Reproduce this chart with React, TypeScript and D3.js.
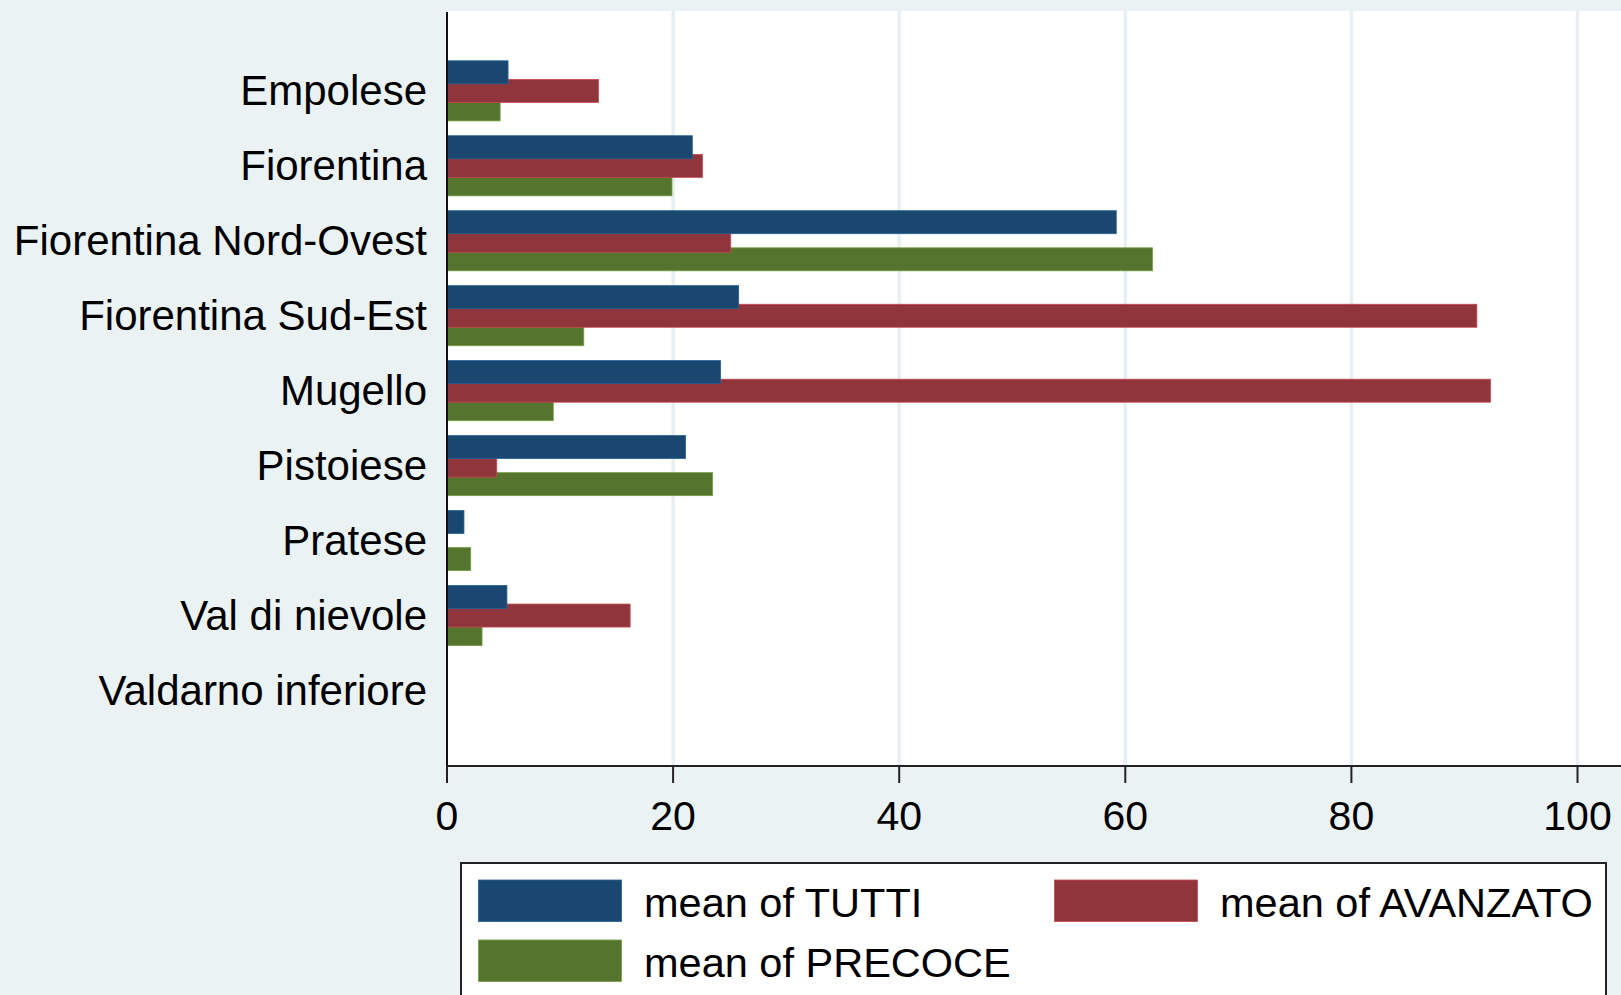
import React from "react";
import * as d3 from "d3";

const categories = [
  "Empolese",
  "Fiorentina",
  "Fiorentina Nord-Ovest",
  "Fiorentina Sud-Est",
  "Mugello",
  "Pistoiese",
  "Pratese",
  "Val di nievole",
  "Valdarno inferiore",
];
const tutti = [5.4, 21.7, 59.2, 25.8, 24.2, 21.1, 1.5, 5.3, 0];
const avanzato = [13.4, 22.6, 25.1, 91.1, 92.3, 4.4, 0, 16.2, 0];
const precoce = [4.7, 19.9, 62.4, 12.1, 9.4, 23.5, 2.1, 3.1, 0];
const xTicks = [0, 20, 40, 60, 80, 100];
const seriesNames = ["mean of TUTTI", "mean of AVANZATO", "mean of PRECOCE"];
const seriesColors = ["#1a476f", "#90353b", "#55752f"];

const W = 1621;
const H = 995;
const BG = "#eaf2f3";
const FONT = "'Liberation Sans', Arial, Helvetica, sans-serif";

export default function App() {
  const plotLeft = 447;
  const plotTop = 11;
  const plotBottom = 766;

  const x = d3.scaleLinear().domain([0, 100]).range([447, 1577.5]);
  const y = d3
    .scalePoint<string>()
    .domain(categories)
    .range([plotTop + 2, plotBottom + 1])
    .padding(1.03);

  const series = [tutti, avanzato, precoce];
  const offsets = [-17.9, 0.7, 19.2];
  const barH = 23;
  const drawOrder = [2, 1, 0];

  return (
    <svg
      width={W}
      height={H}
      style={{ position: "absolute", left: 0, top: 0, display: "block" }}
      fontFamily={FONT}
    >
      <rect x={0} y={0} width={W} height={H} fill={BG} />
      <rect
        x={plotLeft}
        y={plotTop}
        width={W - plotLeft}
        height={plotBottom - plotTop}
        fill="#ffffff"
      />
      {xTicks
        .filter((t) => t !== 0)
        .map((t) => (
          <line
            key={"g" + t}
            x1={x(t)}
            x2={x(t)}
            y1={plotTop}
            y2={plotBottom}
            stroke="#e6eff1"
            strokeWidth={3.5}
          />
        ))}
      {drawOrder.map((si) =>
        categories.map((c, i) => {
          const v = series[si][i];
          if (!v) return null;
          const cy = (y(c) as number) + offsets[si];
          const fill = seriesColors[si];
          const stroke = d3.color(fill)!.brighter(0.9).formatHex();
          return (
            <rect
              key={si + "-" + i}
              x={x(0)}
              y={cy - barH / 2}
              width={x(v) - x(0)}
              height={barH}
              fill={fill}
              stroke={stroke}
              strokeWidth={0.8}
            />
          );
        })
      )}
      <line
        x1={plotLeft}
        x2={plotLeft}
        y1={plotTop + 1}
        y2={plotBottom}
        stroke="#111"
        strokeWidth={2}
      />
      <line
        x1={plotLeft}
        x2={W}
        y1={plotBottom}
        y2={plotBottom}
        stroke="#222"
        strokeWidth={2}
      />
      {xTicks.map((t) => (
        <g key={"t" + t}>
          <line
            x1={x(t)}
            x2={x(t)}
            y1={plotBottom}
            y2={plotBottom + 17}
            stroke="#222"
            strokeWidth={2}
          />
          <text
            x={x(t)}
            y={829.5}
            textAnchor="middle"
            fontSize={41}
            fill="#000"
          >
            {t}
          </text>
        </g>
      ))}
      {categories.map((c) => (
        <text
          key={"l" + c}
          x={427}
          y={(y(c) as number) + 15}
          textAnchor="end"
          fontSize={42}
          fill="#000"
        >
          {c}
        </text>
      ))}
      <rect
        x={461}
        y={863}
        width={1606 - 461}
        height={200}
        fill="#ffffff"
        stroke="#222"
        strokeWidth={2}
      />
      {[
        { si: 0, kx: 478.5, ky: 880, tx: 644, ty: 917.3 },
        { si: 1, kx: 1054.5, ky: 880, tx: 1220, ty: 917.3 },
        { si: 2, kx: 478.5, ky: 940, tx: 644, ty: 977.3 },
      ].map((l) => (
        <g key={"lg" + l.si}>
          <rect
            x={l.kx}
            y={l.ky}
            width={143}
            height={41.5}
            fill={seriesColors[l.si]}
            stroke={d3.color(seriesColors[l.si])!.brighter(0.9).formatHex()}
            strokeWidth={0.8}
          />
          <text x={l.tx} y={l.ty} fontSize={41.5} fill="#000">
            {seriesNames[l.si]}
          </text>
        </g>
      ))}
    </svg>
  );
}
